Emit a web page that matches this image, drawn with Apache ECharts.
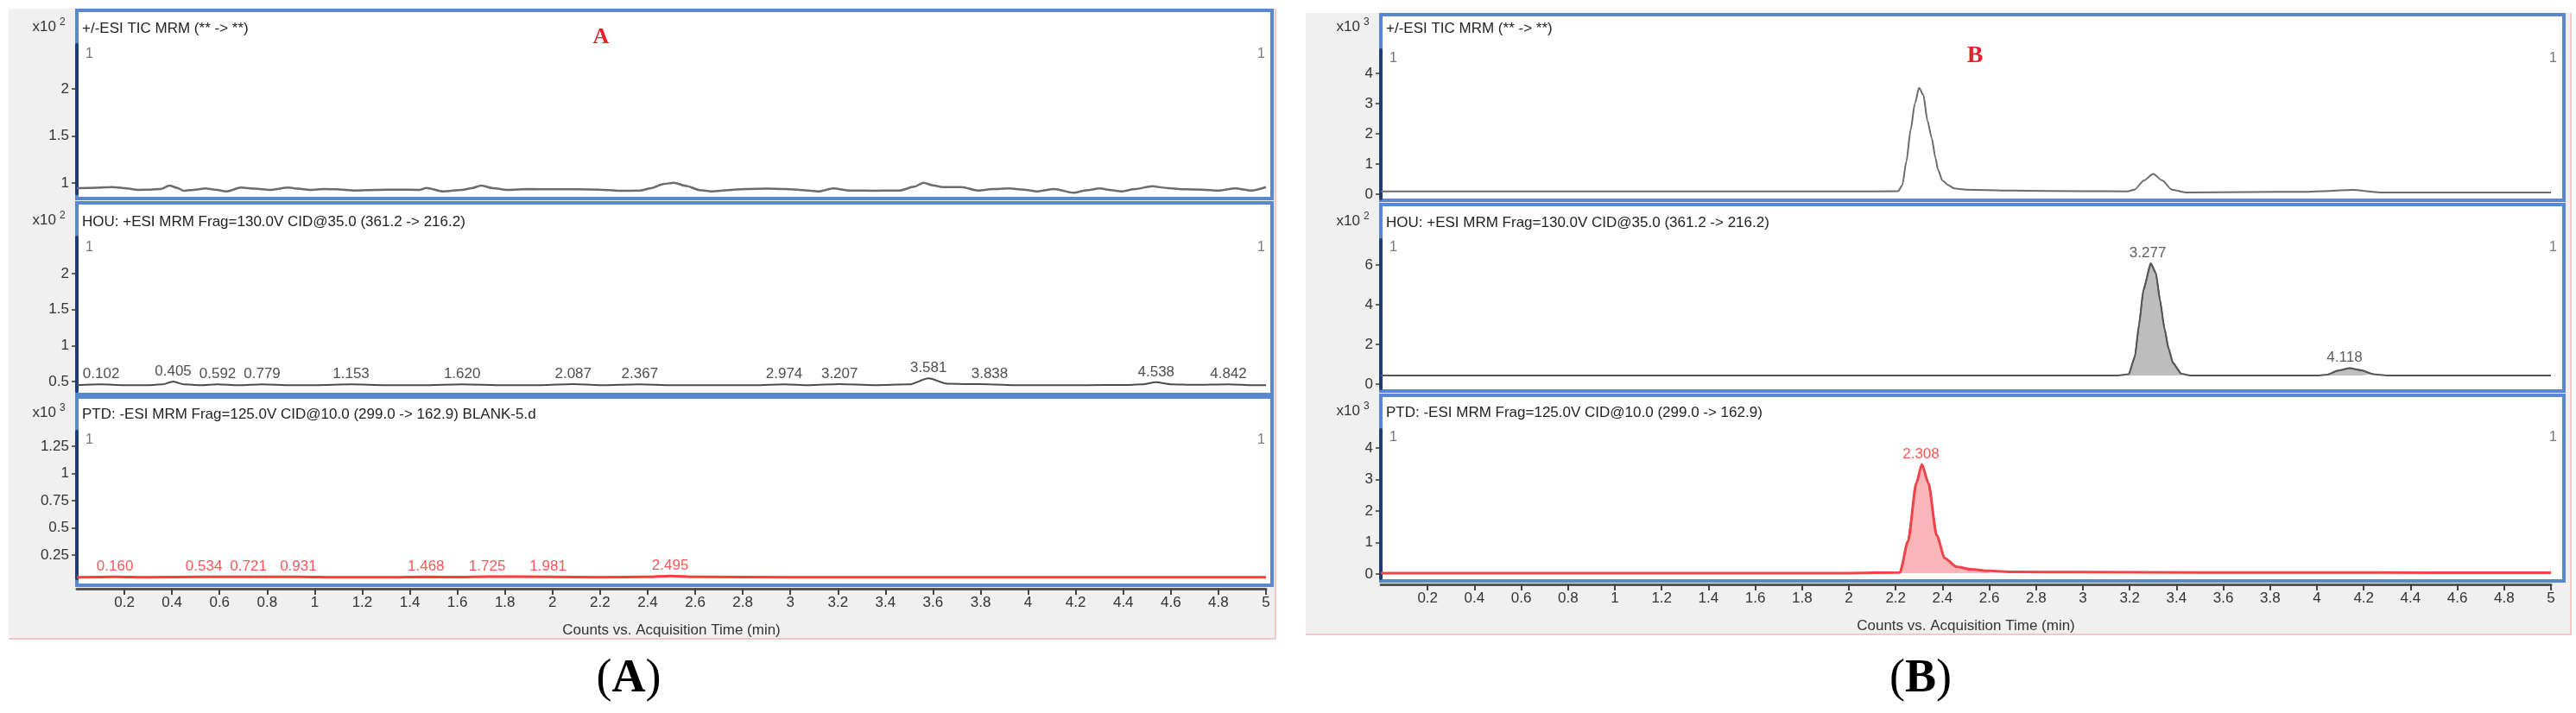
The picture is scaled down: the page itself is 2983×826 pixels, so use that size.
<!DOCTYPE html>
<html>
<head>
<meta charset="utf-8">
<title>MRM chromatograms</title>
<script src="https://cdn.jsdelivr.net/npm/echarts@6/dist/echarts.min.js"></script>
<style>
html,body{margin:0;background:#fff}
#chart{width:2983px;height:826px}
</style>
</head>
<body>
<div id="chart"></div>
<script>
/* x axis ticks (min) */
var timeTicks = [0.2,0.4,0.6,0.8,1,1.2,1.4,1.6,1.8,2,2.2,2.4,2.6,2.8,3,3.2,3.4,3.6,3.8,4,4.2,4.4,4.6,4.8,5];

/* A: blank sample */
var ticA = [[0,0.945],[0.08,0.95],[0.15,0.957],[0.2,0.945],[0.26,0.927],[0.31,0.93],[0.35,0.936],[0.39,0.972],[0.42,0.95],[0.45,0.917],[0.5,0.93],[0.54,0.942],[0.58,0.93],[0.63,0.911],[0.69,0.951],[0.75,0.94],[0.81,0.927],[0.89,0.951],[0.93,0.94],[0.98,0.927],[1.04,0.935],[1.09,0.933],[1.17,0.92],[1.26,0.927],[1.35,0.93],[1.44,0.927],[1.47,0.948],[1.54,0.911],[1.62,0.927],[1.66,0.945],[1.7,0.972],[1.75,0.945],[1.81,0.927],[1.9,0.936],[2,0.933],[2.1,0.933],[2.2,0.93],[2.28,0.917],[2.37,0.92],[2.41,0.942],[2.47,0.99],[2.51,1.003],[2.56,0.97],[2.62,0.925],[2.67,0.911],[2.74,0.925],[2.81,0.936],[2.9,0.94],[2.98,0.936],[3.05,0.925],[3.12,0.911],[3.18,0.942],[3.25,0.92],[3.35,0.918],[3.46,0.92],[3.52,0.96],[3.56,1.003],[3.6,0.975],[3.64,0.957],[3.72,0.957],[3.79,0.92],[3.85,0.935],[3.92,0.942],[3.98,0.93],[4.04,0.911],[4.11,0.936],[4.19,0.896],[4.25,0.925],[4.3,0.942],[4.35,0.925],[4.39,0.911],[4.45,0.935],[4.52,0.966],[4.59,0.945],[4.66,0.933],[4.73,0.93],[4.8,0.92],[4.87,0.942],[4.94,0.92],[5,0.957]];
var houA = [[0,0.45],[0.102,0.46],[0.2,0.45],[0.3,0.45],[0.36,0.46],[0.405,0.5],[0.45,0.46],[0.52,0.45],[0.592,0.462],[0.68,0.45],[0.779,0.462],[0.9,0.45],[1,0.45],[1.153,0.46],[1.3,0.45],[1.45,0.45],[1.62,0.462],[1.8,0.45],[1.95,0.45],[2.087,0.465],[2.2,0.45],[2.367,0.462],[2.5,0.45],[2.7,0.45],[2.85,0.45],[2.974,0.462],[3.08,0.45],[3.207,0.465],[3.35,0.45],[3.5,0.46],[3.581,0.545],[3.66,0.47],[3.75,0.465],[3.838,0.462],[3.95,0.45],[4.1,0.45],[4.25,0.45],[4.4,0.452],[4.48,0.46],[4.538,0.49],[4.6,0.462],[4.7,0.455],[4.842,0.462],[4.95,0.45],[5,0.45]];
var houPeaksA = [0.102,0.405,0.592,0.779,1.153,1.620,2.087,2.367,2.974,3.207,3.581,3.838,4.538,4.842];
var ptdA = [[0,0.045],[0.16,0.05],[0.3,0.045],[0.534,0.05],[0.721,0.05],[0.931,0.05],[1.1,0.045],[1.3,0.045],[1.468,0.05],[1.6,0.047],[1.725,0.052],[1.981,0.05],[2.2,0.046],[2.4,0.05],[2.495,0.058],[2.6,0.05],[3,0.045],[3.5,0.046],[4,0.045],[4.5,0.046],[5,0.045]];
var ptdPeaksA = [0.160,0.534,0.721,0.931,1.468,1.725,1.981,2.495];

/* B: spiked sample */
var ticB = [[0,0.09],[0.5,0.09],[1,0.09],[1.5,0.09],[2,0.09],[2.21,0.1],[2.228,0.29],[2.246,1.1],[2.264,2.14],[2.282,3],[2.3,3.52],[2.318,3.29],[2.336,2.43],[2.354,1.86],[2.37,1.2],[2.381,0.81],[2.4,0.45],[2.425,0.3],[2.45,0.19],[2.5,0.15],[2.69,0.12],[3,0.1],[3.19,0.095],[3.22,0.15],[3.26,0.45],[3.3,0.67],[3.34,0.45],[3.38,0.15],[3.44,0.06],[3.7,0.07],[3.94,0.08],[4.05,0.11],[4.15,0.14],[4.27,0.06],[4.6,0.06],[5,0.06]];
var houB = [[0,0.43],[0.5,0.43],[1,0.43],[1.5,0.43],[2,0.43],[2.5,0.43],[3,0.43],[3.15,0.43],[3.196,0.5],[3.222,1.39],[3.24,3],[3.258,4.71],[3.29,6.09],[3.312,5.58],[3.33,4.2],[3.348,2.83],[3.366,1.8],[3.384,1.09],[3.42,0.52],[3.46,0.44],[3.7,0.43],[4,0.43],[4.045,0.48],[4.09,0.68],[4.14,0.8],[4.19,0.7],[4.24,0.5],[4.3,0.44],[4.6,0.43],[5,0.43]];
var houPeaksB = [3.277, 4.118];
var houFillB = [[3.196, 3.42], [4.045, 4.24]];
var ptdB = [[0,0.03],[1,0.03],[2,0.03],[2.218,0.05],[2.253,1.05],[2.288,2.88],[2.312,3.48],[2.34,2.88],[2.375,1.23],[2.41,0.5],[2.46,0.23],[2.52,0.15],[2.6,0.1],[2.7,0.07],[3,0.06],[3.5,0.05],[4,0.05],[4.5,0.04],[5,0.04]];
var ptdPeaksB = [2.308];
var ptdFillB = [[2.218, 2.6]];

var titleTic = '+/-ESI TIC MRM (** -> **)';
var titleHou = 'HOU: +ESI MRM Frag=130.0V CID@35.0 (361.2 -> 216.2)';
var titlePtdA = 'PTD: -ESI MRM Frag=125.0V CID@10.0 (299.0 -> 162.9) BLANK-5.d';
var titlePtdB = 'PTD: -ESI MRM Frag=125.0V CID@10.0 (299.0 -> 162.9)';

var W = 2983;
var sans = '"Liberation Sans", Arial, sans-serif';
var serif = '"Liberation Serif", "Times New Roman", serif';

/* layout of the six panels */
var panels = [
  {data: ticA, color: '#6b6b6b', width: 2.5, box: [89, 12, 1473, 230], xEnd: 1466, top: 52, bottom: 224, min: 0.89, max: 2.468, ticks: [1, 1.5, 2], exp: '2', title: titleTic, titleY: 33, oneY: 63},
  {data: houA, color: '#4a4a4a', width: 2, box: [89, 235, 1473, 457], xEnd: 1466, top: 275, bottom: 453, min: 0.368, max: 2.505, ticks: [0.5, 1, 1.5, 2], exp: '2', title: titleHou, titleY: 257, oneY: 287, peaks: houPeaksA, peakColor: '#222'},
  {data: ptdA, color: '#ff3a3a', width: 3, box: [89, 460, 1473, 678], xEnd: 1466, top: 500, bottom: 670, min: 0.036, max: 1.385, ticks: [0.25, 0.5, 0.75, 1, 1.25], exp: '3', title: titlePtdA, titleY: 480, oneY: 510, peaks: ptdPeaksA, peakColor: '#ff2a2a', xAxis: true, xOffset: 12},
  {data: ticB, color: '#6b6b6b', width: 2, box: [1599, 17, 2969, 232], xEnd: 2954, top: 58, bottom: 230, min: -0.143, max: 4.771, ticks: [0, 1, 2, 3, 4], exp: '3', title: titleTic, titleY: 33, oneY: 68},
  {data: houB, color: '#555', width: 2, box: [1599, 237, 2969, 453], xEnd: 2954, top: 278, bottom: 450, min: -0.217, max: 7.261, ticks: [0, 2, 4, 6], exp: '2', title: titleHou, titleY: 258, oneY: 287, peaks: houPeaksB, peakColor: '#333', fills: houFillB, fillColor: '#bdbdbd', fillLine: '#444', origin: 0.43},
  {data: ptdB, color: '#f0444a', width: 3, box: [1599, 458, 2969, 673], xEnd: 2954, top: 498, bottom: 670, min: -0.137, max: 4.575, ticks: [0, 1, 2, 3, 4], exp: '3', title: titlePtdB, titleY: 478, oneY: 507, peaks: ptdPeaksB, peakColor: '#ff2a2a', fills: ptdFillB, fillColor: 'rgba(245,110,115,0.5)', fillLine: '#f0444a', origin: 0.03, xAxis: true, xOffset: 7}
];

/* height of a peak label: highest point near that time */
function peakValue(arr, t) {
  var best = null;
  for (var i = 0; i < arr.length; i++) {
    if (Math.abs(arr[i][0] - t) <= 0.03 && (best === null || arr[i][1] > best)) best = arr[i][1];
  }
  if (best !== null) return best;
  for (var j = 1; j < arr.length; j++) {
    if (arr[j][0] >= t) {
      var a = arr[j - 1], b = arr[j];
      return a[1] + (b[1] - a[1]) * (t - a[0]) / (b[0] - a[0]);
    }
  }
  return arr[arr.length - 1][1];
}

var grids = [], xAxes = [], yAxes = [], series = [], graphics = [];

/* grey backgrounds */
graphics.push({type: 'rect', z: -3, shape: {x: 10, y: 10, width: 1467, height: 730}, style: {fill: '#f0f0f0'}});
graphics.push({type: 'rect', z: -3, shape: {x: 1512, y: 15, width: 1465, height: 720}, style: {fill: '#f0f0f0'}});
graphics.push({type: 'polyline', z: -2, shape: {points: [[1477, 10], [1477, 740], [10, 740]]}, style: {stroke: '#f3b8b8', lineWidth: 1.5, fill: null}});
graphics.push({type: 'polyline', z: -2, shape: {points: [[2977, 15], [2977, 735], [1512, 735]]}, style: {stroke: '#f3b8b8', lineWidth: 1.5, fill: null}});

panels.forEach(function (p, k) {
  var b = p.box;
  grids.push({left: b[0], right: W - p.xEnd, top: p.top, bottom: 826 - p.bottom, show: false});

  graphics.push({type: 'rect', z: -1, shape: {x: b[0], y: b[1], width: b[2] - b[0], height: b[3] - b[1]},
    style: {fill: '#fff', stroke: '#5a87d1', lineWidth: 4}});
  graphics.push({type: 'text', z: 5, x: b[0] - 24, y: p.titleY - 2, style: {text: 'x10', font: '17px ' + sans, fill: '#333', align: 'right', verticalAlign: 'middle'}});
  graphics.push({type: 'text', z: 5, x: b[0] - 20, y: p.titleY - 7, style: {text: p.exp, font: '12px ' + sans, fill: '#333', align: 'left', verticalAlign: 'middle'}});
  graphics.push({type: 'text', z: 5, x: b[0] + 6, y: p.titleY, style: {text: p.title, font: '17px ' + sans, fill: '#222', align: 'left', verticalAlign: 'middle'}});
  graphics.push({type: 'text', z: 5, x: b[0] + 10, y: p.oneY, style: {text: '1', font: '16px ' + sans, fill: '#777', align: 'left', verticalAlign: 'middle'}});
  graphics.push({type: 'text', z: 5, x: b[2] - 8, y: p.oneY, style: {text: '1', font: '16px ' + sans, fill: '#777', align: 'right', verticalAlign: 'middle'}});

  var xa = {gridIndex: k, type: 'value', min: 0, max: 5, show: false, splitLine: {show: false}};
  if (p.xAxis) {
    xa = {
      gridIndex: k, type: 'value', min: 0, max: 5, offset: p.xOffset,
      axisLine: {show: true, onZero: false, lineStyle: {color: '#555', width: 3}},
      axisTick: {show: true, customValues: timeTicks, length: 7, lineStyle: {color: '#444', width: 2}},
      axisLabel: {customValues: timeTicks, fontSize: 17, fontFamily: sans, color: '#333', margin: 8},
      splitLine: {show: false},
      name: 'Counts vs. Acquisition Time (min)', nameLocation: 'middle', nameGap: 40,
      nameTextStyle: {fontSize: 17, fontFamily: sans, color: '#333'}
    };
  }
  xAxes.push(xa);

  yAxes.push({
    gridIndex: k, type: 'value', min: p.min, max: p.max,
    axisLine: {show: true, onZero: false, lineStyle: {color: '#1d3c78', width: 4}},
    axisTick: {show: true, customValues: p.ticks, length: 6, lineStyle: {color: '#333', width: 1.5}},
    axisLabel: {customValues: p.ticks, fontSize: 17, fontFamily: sans, color: '#333', margin: 9},
    splitLine: {show: false}
  });

  (p.fills || []).forEach(function (r) {
    series.push({
      type: 'line', xAxisIndex: k, yAxisIndex: k, symbol: 'none', silent: true, z: 1,
      data: p.data.filter(function (d) { return d[0] >= r[0] && d[0] <= r[1]; }),
      lineStyle: {color: p.fillLine, width: 1.5},
      areaStyle: {color: p.fillColor, opacity: 1, origin: p.origin}
    });
  });

  series.push({
    type: 'line', xAxisIndex: k, yAxisIndex: k, data: p.data, symbol: 'none', silent: true,
    smooth: 0.25, smoothMonotone: 'x', lineStyle: {color: p.color, width: p.width}, z: 2
  });

  if (p.peaks) {
    series.push({
      type: 'scatter', xAxisIndex: k, yAxisIndex: k, symbolSize: 1, silent: true, z: 3,
      itemStyle: {color: 'rgba(0,0,0,0)'},
      data: p.peaks.map(function (t) { return [t, peakValue(p.data, t)]; }),
      label: {show: true, position: 'top', distance: 3, fontSize: 17, fontFamily: sans, color: p.peakColor,
        formatter: function (q) { return q.value[0].toFixed(3); }}
    });
  }
});

/* panel letters and captions */
graphics.push({type: 'text', z: 5, x: 696, y: 43, style: {text: 'A', font: 'bold 26px ' + serif, fill: '#e8202a', align: 'center', verticalAlign: 'middle'}});
graphics.push({type: 'text', z: 5, x: 2287, y: 65, style: {text: 'B', font: 'bold 28px ' + serif, fill: '#e8202a', align: 'center', verticalAlign: 'middle'}});
[['A', 728], ['B', 2224]].forEach(function (c) {
  graphics.push({type: 'text', z: 5, x: c[1], y: 787, style: {
    text: '{p|(}{b|' + c[0] + '}{p|)}', align: 'center', verticalAlign: 'middle',
    rich: {p: {font: '54px ' + serif, fill: '#000'}, b: {font: 'bold 54px ' + serif, fill: '#000'}}
  }});
});

var chart = echarts.init(document.getElementById('chart'));
chart.setOption({
  animation: false,
  backgroundColor: '#fff',
  grid: grids,
  xAxis: xAxes,
  yAxis: yAxes,
  series: series,
  graphic: {elements: graphics}
});
</script>
</body>
</html>
